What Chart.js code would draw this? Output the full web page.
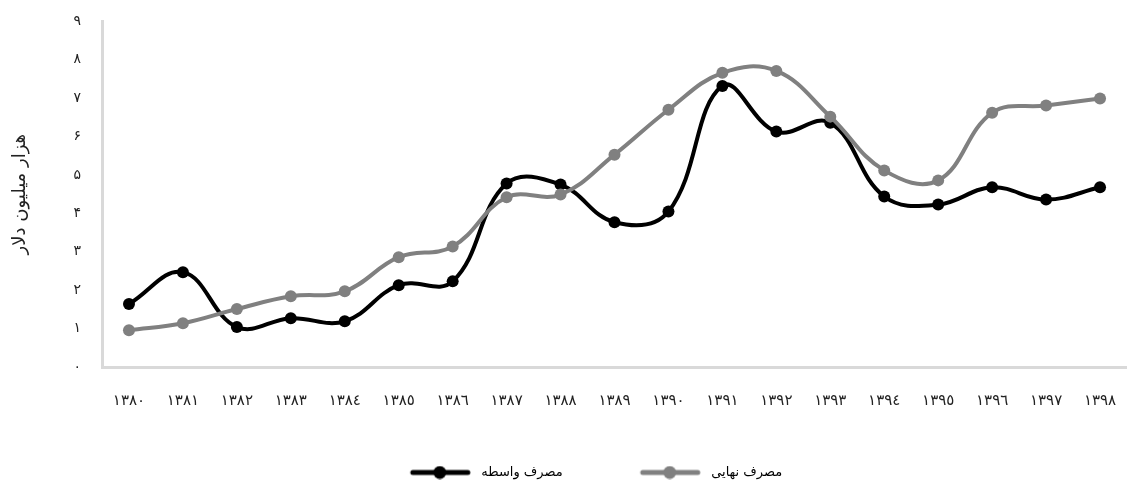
<!DOCTYPE html>
<html>
<head>
<meta charset="utf-8">
<script src="https://cdn.jsdelivr.net/npm/chart.js@4"></script>
<style>
  html, body { margin: 0; padding: 0; background: #fff; }
  #wrap { width: 1127px; height: 489px; }
</style>
</head>
<body>
<div id="wrap"><canvas id="chart"></canvas></div>
<script>
const years = ["١٣٨٠","١٣٨١","١٣٨٢","١٣٨٣","١٣٨٤","١٣٨٥","١٣٨٦","١٣٨٧","١٣٨٨","١٣٨٩",
  "١٣٩٠","١٣٩١","١٣٩٢","١٣٩٣","١٣٩٤","١٣٩٥","١٣٩٦","١٣٩٧","١٣٩٨"];
const intermediate = [1.64, 2.47, 1.04, 1.27, 1.19, 2.13, 2.23, 4.78, 4.75, 3.77,
  4.05, 7.32, 6.13, 6.36, 4.44, 4.23, 4.68, 4.36, 4.68];
const final = [0.96, 1.14, 1.51, 1.84, 1.97, 2.86, 3.14, 4.42, 4.49, 5.53,
  6.70, 7.66, 7.71, 6.52, 5.12, 4.86, 6.62, 6.81, 6.99];
const labelIntermediate = "مصرف واسطه";
const labelFinal = "مصرف نهایی";
const yTitle = "هزار میلیون دلار";

const FONT = "'DejaVu Sans', sans-serif";
const faDigits = "۰۱۲۳۴۵۶۷۸۹";
const toFa = n => String(n).replace(/\d/g, d => faDigits[d]);

// legend marker: line with a dot, blank space on the left to spread the items
function marker(color) {
  const c = document.createElement("canvas");
  c.width = 130; c.height = 14;
  const g = c.getContext("2d");
  g.strokeStyle = color; g.lineWidth = 5; g.lineCap = "round";
  g.beginPath(); g.moveTo(68, 7); g.lineTo(123, 7); g.stroke();
  g.fillStyle = color;
  g.beginPath(); g.arc(95, 7, 6.5, 0, Math.PI * 2); g.fill();
  return c;
}

new Chart(document.getElementById("chart"), {
  type: "line",
  data: {
    labels: years,
    datasets: [
      { label: labelIntermediate, data: intermediate, borderColor: "#000", backgroundColor: "#000",
        borderWidth: 4, pointRadius: 6, pointBorderWidth: 0, tension: 0.4, order: 1 },
      { label: labelFinal, data: final, borderColor: "#808080", backgroundColor: "#808080",
        borderWidth: 4, pointRadius: 6, pointBorderWidth: 0, tension: 0.4, order: 0 },
    ],
  },
  options: {
    responsive: true,
    maintainAspectRatio: false,
    animation: false,
    layout: { autoPadding: false, padding: { top: 20, right: 0, left: 0, bottom: 0 } },
    plugins: {
      tooltip: { enabled: false },
      legend: {
        position: "bottom",
        labels: {
          usePointStyle: true,
          pointStyleWidth: 130,
          color: "#000",
          font: { family: FONT, size: 13 },
          padding: 12,
          generateLabels: chart => chart.data.datasets.map((ds, i) => ({
            text: ds.label,
            datasetIndex: i,
            pointStyle: marker(ds.borderColor),
            fillStyle: ds.borderColor,
            strokeStyle: ds.borderColor,
            lineWidth: 0,
            hidden: false,
            fontColor: "#000",
          })),
        },
      },
    },
    scales: {
      x: {
        offset: true,
        grid: { display: false, tickLength: 20 },
        border: { display: true, color: "#d9d9d9", width: 3 },
        ticks: { color: "#222", font: { family: FONT, size: 15 }, padding: 5, maxRotation: 0, autoSkip: false },
        afterFit: s => { s.height = 87; s.paddingRight = 0; s.paddingLeft = 0; },
      },
      y: {
        min: 0, max: 9,
        grid: { display: false },
        border: { display: true, color: "#d9d9d9", width: 3 },
        ticks: { stepSize: 1, color: "#222", font: { family: FONT, size: 14 }, padding: 13,
          callback: v => toFa(v) },
        title: { display: true, text: yTitle, color: "#222", font: { family: FONT, size: 18 }, padding: { top: 10 } },
        afterFit: s => { s.width = 102; },
      },
    },
  },
});
</script>
</body>
</html>
